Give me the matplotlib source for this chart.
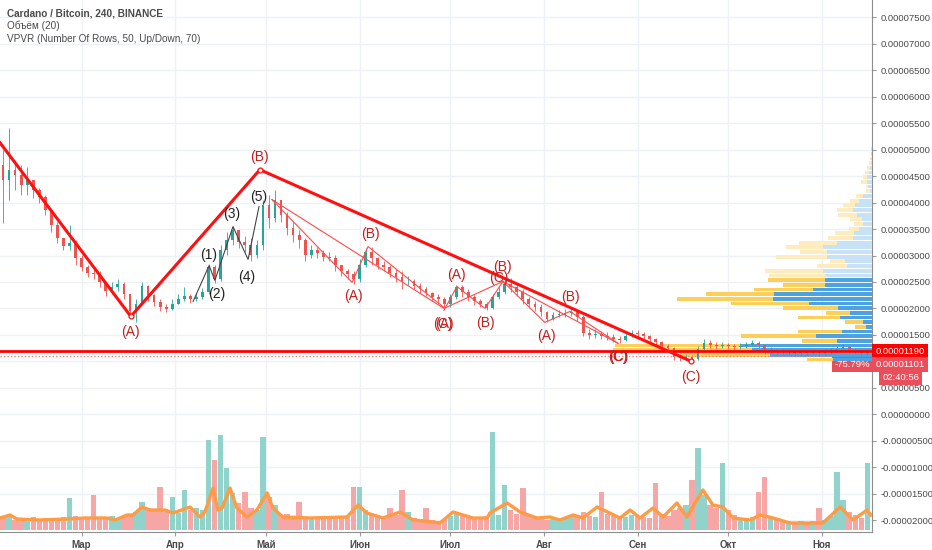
import datetime as dt
import matplotlib
matplotlib.use('Agg')
import matplotlib.pyplot as plt
import matplotlib.dates as mdates
import matplotlib.transforms as mtransforms
import numpy as np

plt.rcParams['font.family'] = ['Liberation Sans', 'DejaVu Sans']

SAT = 1e-8
start = dt.datetime(2018, 2, 2)

# 2-day candles (prices in satoshi)
open_first = 4717
close_sat = [4434, 4623, 4528, 4340, 4434, 4245, 4113, 3868, 3585, 3340,
             3189, 3245, 2962, 2774, 2679, 2642, 2491, 2321, 2396, 2453,
             2264, 1943, 2075, 2415, 2245, 2113, 2019, 1981, 2075, 2170,
             2226, 2170, 2208, 2302, 2774, 2547, 3113, 3302, 3491, 3264,
             3208, 3019, 3208, 3962, 3717, 4057, 3774, 3528, 3396, 3302,
             3019, 3113, 3057, 2981, 2962, 2830, 2698, 2642, 2547, 2830,
             3075, 2962, 2830, 2774, 2679, 2585, 2509, 2509, 2415, 2358,
             2283, 2208, 2170, 2075, 2208, 2396, 2302, 2208, 2132, 2075,
             2000, 2208, 2302, 2453, 2396, 2302, 2170, 2075, 2019, 1925,
             1792, 1868, 1887, 1906, 1925, 1830, 1528, 1491, 1509, 1472,
             1453, 1415, 1396, 1472, 1528, 1509, 1472, 1415, 1358, 1283,
             1245, 1075, 1057, 1075, 1038, 1226, 1340, 1302, 1283, 1302,
             1283, 1264, 1283, 1302, 1340, 1302, 1189, 1208, 1189, 1170,
             1170, 1151, 1170, 1151, 1170, 1151, 1170, 1189, 1226, 1264,
             1208, 1189, 1151, 1190]
high_sat = [5000, 5415, 4811, 4717, 4679, 4434, 4283, 4151, 3906, 3642,
            3340, 3585, 3302, 3019, 2830, 2774, 2698, 2509, 2491, 2547,
            2491, 2264, 2170, 2491, 2434, 2264, 2170, 2075, 2170, 2264,
            2396, 2264, 2283, 2377, 2849, 2830, 3208, 3453, 3566, 3491,
            3377, 3340, 3302, 4057, 4151, 4245, 4057, 3830, 3642, 3491,
            3340, 3208, 3170, 3113, 3075, 3019, 2830, 2736, 2698, 2925,
            3151, 3170, 2981, 2887, 2830, 2736, 2698, 2604, 2547, 2472,
            2396, 2302, 2264, 2208, 2264, 2434, 2434, 2358, 2245, 2170,
            2113, 2264, 2396, 2547, 2566, 2453, 2358, 2208, 2132, 2075,
            1943, 1925, 1962, 1981, 2000, 1962, 1868, 1604, 1604, 1566,
            1547, 1509, 1472, 1547, 1585, 1585, 1547, 1491, 1434, 1377,
            1321, 1264, 1132, 1132, 1113, 1283, 1415, 1396, 1358, 1358,
            1340, 1321, 1340, 1358, 1396, 1377, 1302, 1264, 1245, 1226,
            1226, 1208, 1226, 1208, 1226, 1208, 1226, 1245, 1283, 1321,
            1283, 1245, 1226, 1226]
low_sat = [3623, 4057, 4245, 4151, 4151, 4094, 4000, 3774, 3453, 3245,
           3113, 3113, 2830, 2698, 2585, 2547, 2396, 2226, 2264, 2321,
           2170, 1830, 1736, 2075, 2132, 2038, 1943, 1925, 1962, 2075,
           2132, 2094, 2132, 2170, 2264, 2472, 2509, 3019, 3208, 3151,
           3075, 2887, 2962, 3113, 3528, 3642, 3642, 3396, 3264, 3151,
           2887, 2962, 2962, 2887, 2887, 2698, 2604, 2547, 2453, 2491,
           2774, 2830, 2736, 2698, 2585, 2491, 2358, 2434, 2358, 2283,
           2226, 2132, 2094, 2019, 2019, 2170, 2208, 2132, 2057, 2019,
           1962, 1981, 2170, 2264, 2302, 2226, 2075, 2000, 1943, 1849,
           1736, 1774, 1830, 1830, 1849, 1755, 1472, 1415, 1434, 1415,
           1396, 1358, 1340, 1377, 1453, 1453, 1415, 1358, 1302, 1226,
           1189, 1019, 1000, 1019, 981, 1019, 1208, 1245, 1226, 1245,
           1226, 1208, 1226, 1245, 1283, 1245, 1132, 1151, 1132, 1113,
           1113, 1094, 1113, 1094, 1113, 1094, 1113, 1132, 1170, 1208,
           1151, 1132, 1094, 1113]
volume = [12, 14, 10, 12, 11, 13, 10, 12, 11, 12,
          13, 32, 14, 12, 11, 35, 13, 12, 14, 12,
          13, 15, 18, 28, 22, 20, 43, 18, 33, 17,
          40, 20, 22, 20, 90, 70, 95, 62, 37, 27,
          38, 22, 20, 93, 33, 25, 15, 16, 14, 28,
          13, 12, 13, 12, 11, 13, 12, 14, 43, 43,
          20, 16, 14, 13, 22, 15, 40, 18, 12, 11,
          22, 10, 9, 10, 14, 16, 14, 12, 12, 13,
          14, 98, 15, 45, 20, 16, 42, 15, 12, 11,
          10, 11, 10, 12, 13, 15, 18, 14, 13, 38,
          16, 14, 12, 13, 15, 14, 13, 12, 47, 16,
          14, 20, 22, 25, 50, 82, 35, 25, 22, 67,
          20, 15, 12, 12, 13, 38, 53, 14, 12, 10,
          9, 8, 9, 8, 9, 22, 10, 14, 58, 30,
          18, 15, 12, 67]

# volume MA(20), read at points (days from start)
ma_day = [0, 3.3, 5.6, 13.2, 22.2, 28.1, 35.4, 38.1, 42.0, 44.0, 47.0, 49.6,
          54.6, 57.2, 62.9, 66.2, 67.8, 70.5, 72.1, 73.5, 76.1, 78.4, 81.7,
          85.0, 88.4, 90.3, 93.6, 102.6, 114.8, 118.5, 121.4, 126.7, 132.4,
          136.7, 143.3, 145.6, 149.9, 156.5, 161.2, 162.1, 167.8, 172.1,
          177.7, 182.0, 185.3, 189.6, 192.9, 197.6, 205.2, 208.5, 211.8,
          216.1, 219.4, 224.0, 227.3, 232.6, 235.9, 239.2, 242.6, 248.2,
          251.5, 255.8, 261.4, 272.3, 278.0, 282.3, 286.9, 288.2]
ma_vol = [12, 15, 11, 10, 11, 12, 12, 10, 15, 15, 23, 20,
          20, 17, 23, 13, 18, 42, 20, 22, 42, 22, 13,
          20, 37, 22, 13, 12, 13, 25, 17, 12, 18,
          10, 8, 7, 18, 12, 12, 17, 27, 18,
          12, 13, 10, 15, 12, 23, 12, 20, 12,
          22, 13, 27, 13, 40, 25, 23, 12, 10,
          15, 12, 7, 7, 23, 10, 20, 15]

# VPVR, 50 rows from 0.00001000 to 0.00005415 (bottom to top)
vp_low, vp_high, vp_rows = 1000, 5415, 50
vp_up = [39, 102, 120, 131, 35, 56, 30, 6, 9, 32,
         22, 34, 63, 99, 98, 59, 47, 47, 47, 49,
         25, 27, 45, 45, 49, 35, 19, 18, 13, 9,
         10, 15, 19, 17, 13, 9, 2, 4, 5, 5,
         3, 2, 1, 1, 1, 1, 0, 0, 0, 0]
vp_down = [26, 90, 139, 126, 35, 75, 44, 11, 18, 42,
           24, 55, 78, 96, 68, 59, 42, 57, 56, 58,
           30, 15, 51, 27, 37, 38, 25, 19, 10, 9,
           12, 19, 16, 12, 9, 7, 4, 2, 6, 4,
           4, 3, 2, 1, 0, 0, 0, 0, 0, 0]
value_area_rows = 18

# Elliott waves: (days from start, satoshi)
main_day, main_sat = [0, 43.3, 86.0, 228.7], [5132, 1849, 4623, 1000]
imp_day = [63.9, 69.2, 71.1, 77.1, 82.1, 85.7]
imp_sat = [2132, 2811, 2528, 3547, 2925, 3925]
big_day, big_sat = [90.0, 146.9, 166.4, 204.5], [4057, 2000, 2509, 1340]
suba_day, suba_sat = [90.0, 116.5, 121.8, 146.9], [4057, 2491, 3170, 2019]
subb_day, subb_sat = [146.9, 151.2, 160.5, 166.4], [1962, 2415, 2000, 2509]
subc_day, subc_sat = [166.4, 180.3, 188.6, 204.5], [2509, 1736, 1943, 1340]

months = ['Мар', 'Апр', 'Май', 'Июн', 'Июл', 'Авг', 'Сен', 'Окт', 'Ноя']
month_dates = [dt.datetime(2018, m, 1) for m in range(3, 12)]

last_price = 1190
mark_price = 1101


def dnum(d):
    return mdates.date2num(start + dt.timedelta(days=d))


W, H = 932, 550
fig = plt.figure(figsize=(W / 100, H / 100), dpi=100)
rect = [0, 18 / H, 872 / W, 532 / H]
ax = fig.add_axes(rect)
ax.set_zorder(0)

UP, DOWN = '#26a69a', '#ef5350'
n = len(close_sat)
x = np.array([dnum(2 * i + 1) for i in range(n)])
c = np.array(close_sat, float)
o = np.array([open_first] + close_sat[:-1], float)
up = c >= o
cols = np.where(up, UP, DOWN)

# VPVR
axp = ax.twiny()
axp.set_zorder(1)
axp.patch.set_visible(False)
row_h = (vp_high - vp_low) / vp_rows
rows_y = np.array([(vp_low + r * row_h) * SAT for r in range(vp_rows)])
inside = np.arange(vp_rows) < value_area_rows
c_up = np.where(inside, '#4da3e2', '#c7e2f7')
c_dn = np.where(inside, '#fccf5a', '#feecbf')
axp.barh(rows_y, vp_up, height=row_h * SAT * 0.8, left=0, align='edge', color=c_up, lw=0)
axp.barh(rows_y, vp_down, height=row_h * SAT * 0.8, left=vp_up, align='edge', color=c_dn, lw=0)
axp.set_xlim(872, 0)
axp.xaxis.set_visible(False)
for s in axp.spines.values():
    s.set_visible(False)

# volume
axv = ax.twinx()
axv.set_zorder(1.5)
axv.patch.set_visible(False)
vcols = np.where(up, '#8fd3cb', '#f6a6a4')
axv.bar(x, volume, width=1.8, color=vcols, lw=0)
axv.plot([dnum(d) for d in ma_day], ma_vol, color='#ff9b45', lw=2.4, solid_joinstyle='round')
axv.set_ylim(-2, 530)
axv.yaxis.set_visible(False)
for s in axv.spines.values():
    s.set_visible(False)

# price overlay
axc = fig.add_axes(rect, sharex=ax, sharey=ax, label='overlay')
axc.set_zorder(2)
axc.patch.set_visible(False)
axc.axis('off')
axc.vlines(x, np.array(low_sat) * SAT, np.array(high_sat) * SAT, colors=cols, lw=0.6)
body = np.maximum(np.abs(c - o), 6)
axc.bar(x, body * SAT, bottom=np.minimum(o, c) * SAT, width=0.9, color=cols, lw=0)

axc.axhline(last_price * SAT, color='#ff0000', lw=2)
axc.axhline(mark_price * SAT, xmax=833 / 872, color='#f08080', lw=1, ls=(0, (1, 1.5)))

RED, LRED, LBL = '#ff1010', '#ff4a4a', '#c41e1e'


def wave(days, sats, color, lw, labels, lcolor):
    xs = [dnum(d) for d in days]
    ys = [s * SAT for s in sats]
    axc.plot(xs, ys, color=color, lw=lw, solid_joinstyle='miter')
    for idx, txt, dx, dy in labels:
        axc.annotate(txt, (xs[idx], ys[idx]), xytext=(dx, dy), textcoords='offset pixels',
                     ha='center', va='center', fontsize=10, color=lcolor)


wave(main_day, main_sat, RED, 2.2,
     [(1, '(A)', 0, -16), (2, '(B)', 0, 13), (3, '(C)', 0, -16)], LBL)
axc.plot([dnum(d) for d in main_day[1:]], [s * SAT for s in main_sat[1:]], 'o',
         ms=3.5, mfc='white', mec=RED, mew=0.9)
wave(imp_day, imp_sat, '#444444', 0.8,
     [(1, '(1)', 0, 11), (2, '(2)', 2, -14), (3, '(3)', -1, 13), (4, '(4)', -1, -18),
      (5, '(5)', 0, 10)], '#222222')
wave(big_day, big_sat, LRED, 0.8,
     [(1, '(A)', 1, -16), (2, '(B)', 0, 14), (3, '(C)', 1, -14)], LBL)
wave(suba_day, suba_sat, LRED, 0.8,
     [(1, '(A)', 1, -14), (2, '(B)', 2, 13), (3, '(C)', -1, -17)], LBL)
wave(subb_day, subb_sat, LRED, 0.8,
     [(1, '(A)', 0, 11), (2, '(B)', 0, -15), (3, '(C)', -4, 3)], LBL)
wave(subc_day, subc_sat, LRED, 0.8,
     [(1, '(A)', 2, -14), (2, '(B)', 0, 14), (3, '(C)', 0, -14)], LBL)

# axes, grid, ticks
ax.set_xlim(dnum(0), dnum(872 / 3.022))
ax.set_ylim(-118 * 18.868 * SAT, 415 * 18.868 * SAT)
ax.grid(True, color='#edf1f6', lw=1)
ax.set_axisbelow(True)
yt = [k * 5e-6 for k in range(-4, 16)]
ax.set_yticks(yt)
ax.set_yticklabels(['' if k == 2 else f'{k * 5e-6:.8f}' for k in range(-4, 16)])
ax.yaxis.tick_right()
ax.tick_params(axis='y', length=3, color='#9a9a9a', pad=3, labelsize=6.8, labelcolor='#4a4a4a')
ax.set_xticks([mdates.date2num(d) for d in month_dates])
ax.set_xticklabels(months, fontweight='bold')
ax.tick_params(axis='x', length=3, color='#9a9a9a', pad=3, labelsize=7, labelcolor='#4a4a4a')
for side in ['top', 'left']:
    ax.spines[side].set_visible(False)
for side in ['right', 'bottom']:
    ax.spines[side].set_color('#8e8e8e')

# price scale labels
trans = mtransforms.blended_transform_factory(ax.transAxes, ax.transData)
box = dict(boxstyle='square,pad=0.32', fc='#ea4e5b', ec='none')
ax.text(1.004, last_price * SAT, f'{last_price * SAT:.8f}', transform=trans, ha='left', va='center',
        fontsize=6.8, color='white', bbox=dict(boxstyle='square,pad=0.32', fc='#ff0000', ec='none'))
ax.text(1.004, 943 * SAT, f'{mark_price * SAT:.8f}', transform=trans, ha='left', va='center',
        fontsize=6.8, color='white', bbox=box)
ax.text(0.998, 943 * SAT, '-75.79%', transform=trans, ha='right', va='center',
        fontsize=6.8, color='white', bbox=box)
ax.text(1.012, 698 * SAT, '02:40:56', transform=trans, ha='left', va='center',
        fontsize=6.8, color='white', bbox=box)

# legend texts
fig.text(7 / W, 1 - 13 / H, 'Cardano / Bitcoin, 240, BINANCE', fontsize=7.2, fontweight='bold',
         color='#4a4a4a', va='center')
fig.text(7 / W, 1 - 26 / H, 'Объём (20)', fontsize=7.2, color='#4a4a4a', va='center')
fig.text(7 / W, 1 - 39 / H, 'VPVR (Number Of Rows, 50, Up/Down, 70)', fontsize=7.2,
         color='#4a4a4a', va='center')

fig.savefig('out.png', dpi=100)
